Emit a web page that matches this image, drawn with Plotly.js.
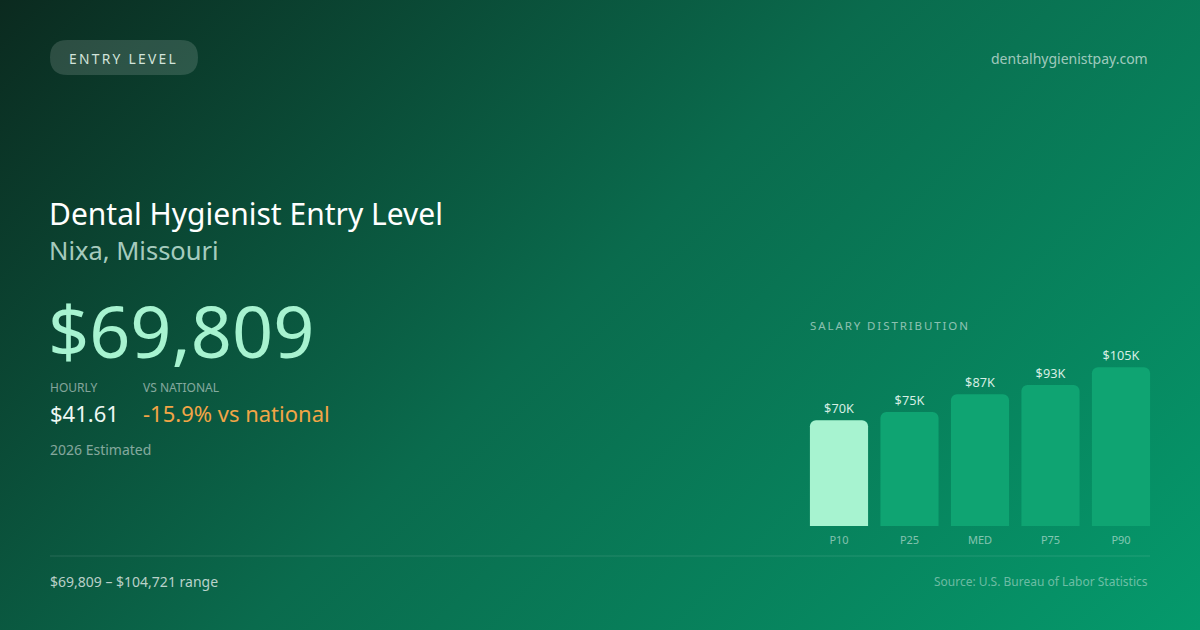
<!DOCTYPE html>
<html>
<head>
<meta charset="utf-8">
<script src="https://cdn.plot.ly/plotly-3.0.1.min.js"></script>
<style>
  html, body { margin: 0; padding: 0; }
  #chart {
    width: 1200px; height: 630px;
    background: linear-gradient(135deg, #0b2a1f 0%, #0a6b4d 48%, #059a6c 100%);
  }
</style>
</head>
<body>
<div id="chart"></div>
<script>
// salary percentiles (annual, USD)
const percentiles = ['P10', 'P25', 'MED', 'P75', 'P90'];
const salaries = [69809, 75200, 86900, 93100, 104721];
const salaryLabels = ['$70K', '$75K', '$87K', '$93K', '$105K'];
const barColors = ['#a7f3d0', '#0fa472', '#0fa472', '#0fa472', '#0fa472'];

const FONT = 'Noto Sans, Open Sans, sans-serif';

const trace = {
  type: 'bar',
  x: percentiles,
  y: salaries,
  text: salaryLabels,
  textposition: 'outside',
  cliponaxis: false,
  textfont: {family: FONT, size: 12.7, color: '#d6eee3'},
  marker: {color: barColors, cornerradius: 6, line: {width: 0}},
  hoverinfo: 'skip'
};

// small helper for free text
function label(x, y, text, size, color, anchor) {
  return {
    xref: 'paper', yref: 'paper', x: x / 1200, y: 1 - y / 630,
    text: text, showarrow: false,
    xanchor: anchor || 'left', yanchor: 'middle',
    font: {family: FONT, size: size, color: color}
  };
}

const sp = '\u2009';
const spaced = s => s.split('').join(sp);

const annotations = [
  label(123, 58, spaced('ENTRY LEVEL'), 13.8, '#d2e4db', 'center'),
  label(1150, 58, 'dentalhygienistpay.com', 14, 'rgba(255,255,255,0.62)', 'right'),
  label(47, 213, 'Dental Hygienist Entry Level', 30, '#ffffff'),
  label(47, 250, 'Nixa, Missouri', 25.5, 'rgba(210,240,228,0.8)'),
  label(46, 330, '$69,809', 72, '#a7f3d0'),
  label(48, 387, 'HOURLY', 12, 'rgba(255,255,255,0.5)'),
  label(141, 387, 'VS NATIONAL', 12, 'rgba(255,255,255,0.5)'),
  label(48, 413, '$41.61', 22, '#eef8f3'),
  label(141, 413, '-15.9% vs national', 22, '#f2a546'),
  label(48, 449, '2026 Estimated', 14, 'rgba(255,255,255,0.5)'),
  label(808, 325, spaced('SALARY DISTRIBUTION'), 11.5, 'rgba(255,255,255,0.55)'),
  label(48, 581, '$69,809 \u2013 $104,721 range', 14, 'rgba(255,255,255,0.72)'),
  label(1150, 581, 'Source: U.S. Bureau of Labor Statistics', 12, 'rgba(255,255,255,0.42)', 'right')
];

const shapes = [
  // badge
  {
    type: 'path', xref: 'paper', yref: 'paper', layer: 'below',
    path: (function () {
      const x0 = 50 / 1200, x1 = 198 / 1200, r = 17.5;
      const yt = 1 - 40 / 630, yb = 1 - 75 / 630;
      const rx = r / 1200, ry = r / 630;
      return 'M ' + (x0 + rx) + ' ' + yt + ' L ' + (x1 - rx) + ' ' + yt +
        ' Q ' + x1 + ' ' + yt + ' ' + x1 + ' ' + (yt - ry) +
        ' Q ' + x1 + ' ' + yb + ' ' + (x1 - rx) + ' ' + yb +
        ' L ' + (x0 + rx) + ' ' + yb +
        ' Q ' + x0 + ' ' + yb + ' ' + x0 + ' ' + (yb + ry) +
        ' Q ' + x0 + ' ' + yt + ' ' + (x0 + rx) + ' ' + yt + ' Z';
    })(),
    fillcolor: 'rgba(255,255,255,0.14)', line: {width: 0}
  },
  // divider
  {
    type: 'line', xref: 'paper', yref: 'paper',
    x0: 50 / 1200, x1: 1150 / 1200, y0: 1 - 556 / 630, y1: 1 - 556 / 630,
    line: {color: 'rgba(255,255,255,0.12)', width: 1}
  }
];

const layout = {
  width: 1200,
  height: 630,
  margin: {l: 0, r: 0, t: 0, b: 0},
  paper_bgcolor: 'rgba(0,0,0,0)',
  plot_bgcolor: 'rgba(0,0,0,0)',
  showlegend: false,
  bargap: 0.175,
  xaxis: {
    domain: [803.75 / 1200, 1156.25 / 1200],
    showgrid: false, zeroline: false, showline: false,
    ticks: '', ticklen: 0, ticklabelstandoff: 6,
    tickfont: {family: FONT, size: 11, color: 'rgba(255,255,255,0.5)'},
    fixedrange: true
  },
  yaxis: {
    domain: [1 - 526 / 630, 1 - 344.2 / 630],
    range: [0, 120000],
    visible: false,
    fixedrange: true
  },
  annotations: annotations,
  shapes: shapes
};

Plotly.newPlot('chart', [trace], layout, {displayModeBar: false, staticPlot: true});
</script>
</body>
</html>
